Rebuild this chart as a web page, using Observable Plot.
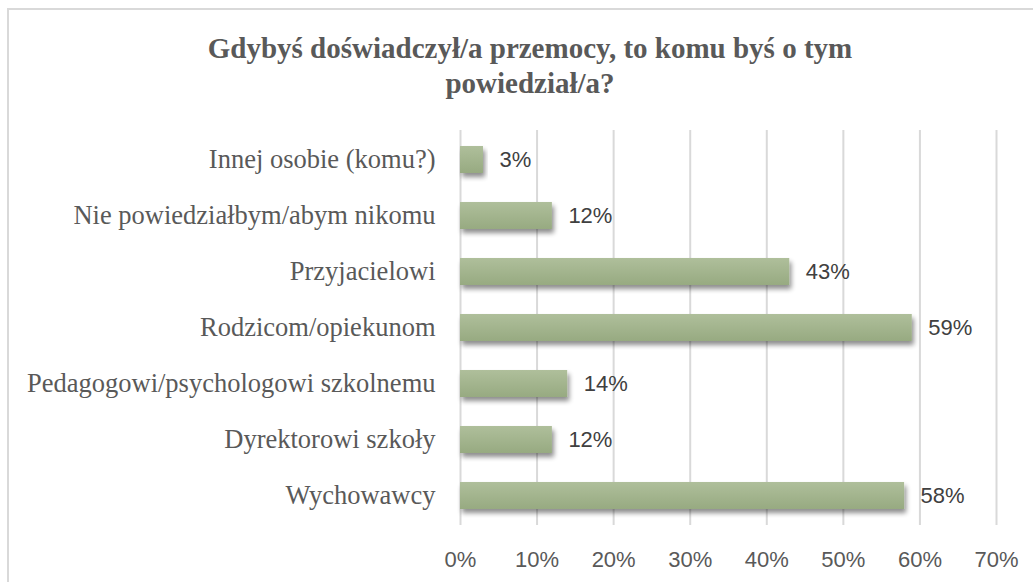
<!DOCTYPE html>
<html>
<head>
<meta charset="utf-8">
<script src="https://cdn.jsdelivr.net/npm/d3@7"></script>
<script src="https://cdn.jsdelivr.net/npm/@observablehq/plot@0.6"></script>
<style>
  html, body { margin: 0; padding: 0; background: #fff; overflow: hidden; }
  #wrap { position: relative; width: 1033px; height: 582px; overflow: hidden; background: #fff; }
  #frame { position: absolute; left: 7px; top: 8px; width: 1100px; height: 700px; border: 2px solid #d9d9d9; box-sizing: border-box; }
  #title { position: absolute; left: 30px; width: 1000px; top: 31px; text-align: center;
           font-family: "Liberation Serif", "Times New Roman", serif; font-weight: bold;
           font-size: 29px; line-height: 35px; color: #595959; }
  #chart { position: absolute; left: 0; top: 0; }
</style>
</head>
<body>
<div id="wrap">
  <div id="frame"></div>
  <div id="chart"></div>
  <div id="title">Gdybyś doświadczył/a przemocy, to komu byś o tym<br>powiedział/a?</div>
</div>
<script>
const categories = [
  "Innej osobie (komu?)",
  "Nie powiedziałbym/abym nikomu",
  "Przyjacielowi",
  "Rodzicom/opiekunom",
  "Pedagogowi/psychologowi szkolnemu",
  "Dyrektorowi szkoły",
  "Wychowawcy"
];
const values = [0.03, 0.12, 0.43, 0.59, 0.14, 0.12, 0.58];
const xTicks = [0, 0.1, 0.2, 0.3, 0.4, 0.5, 0.6, 0.7];

const data = categories.map((c, i) => ({category: c, value: values[i]}));

const chart = Plot.plot({
  width: 1033,
  height: 582,
  marginTop: 130,
  marginBottom: 57,
  marginLeft: 460,
  marginRight: 37,
  style: {background: "transparent", overflow: "visible"},
  x: {domain: [0, 0.7], ticks: xTicks, tickFormat: d3.format(".0%"), label: null},
  y: {domain: categories, paddingInner: 0.52, paddingOuter: 0.26, label: null},
  marks: [
    Plot.gridX(xTicks, {stroke: "#d9d9d9", strokeOpacity: 1, strokeWidth: 2}),
    Plot.axisX({ticks: xTicks, tickFormat: d3.format(".0%"), tickSize: 0, tickPadding: 26,
      fontSize: 22, fill: "#595959", fontFamily: "Liberation Sans, Arial, sans-serif", label: null}),
    Plot.axisY({tickSize: 0, tickPadding: 25, fontSize: 26.5, fill: "#595959",
      fontFamily: "Liberation Serif, Times New Roman, serif", label: null}),
    Plot.barX(data, {x: "value", y: "category", fill: "url(#barGrad)"}),
    Plot.text(data, {x: "value", y: "category", text: d => d3.format(".0%")(d.value),
      dx: 16, textAnchor: "start", fontSize: 22, fill: "#404040",
      fontFamily: "Liberation Sans, Arial, sans-serif"})
  ]
});

// gradient + shadow definitions
const ns = "http://www.w3.org/2000/svg";
const defs = document.createElementNS(ns, "defs");
defs.innerHTML = `
  <linearGradient id="barGrad" x1="0" y1="0" x2="0" y2="1">
    <stop offset="0" stop-color="#afbf9b"/>
    <stop offset="1" stop-color="#97aa81"/>
  </linearGradient>
  <filter id="barShadow" x="-10%" y="-30%" width="130%" height="190%">
    <feGaussianBlur in="SourceAlpha" stdDeviation="2.5"/>
    <feOffset dx="2" dy="4" result="ob"/>
    <feComponentTransfer><feFuncA type="linear" slope="0.45"/></feComponentTransfer>
    <feMerge><feMergeNode/><feMergeNode in="SourceGraphic"/></feMerge>
  </filter>`;
chart.insertBefore(defs, chart.firstChild);
const barG = chart.querySelector('g[aria-label="bar"]');
if (barG) barG.querySelectorAll("rect").forEach(r => r.setAttribute("filter", "url(#barShadow)"));

document.getElementById("chart").appendChild(chart);
</script>
</body>
</html>
